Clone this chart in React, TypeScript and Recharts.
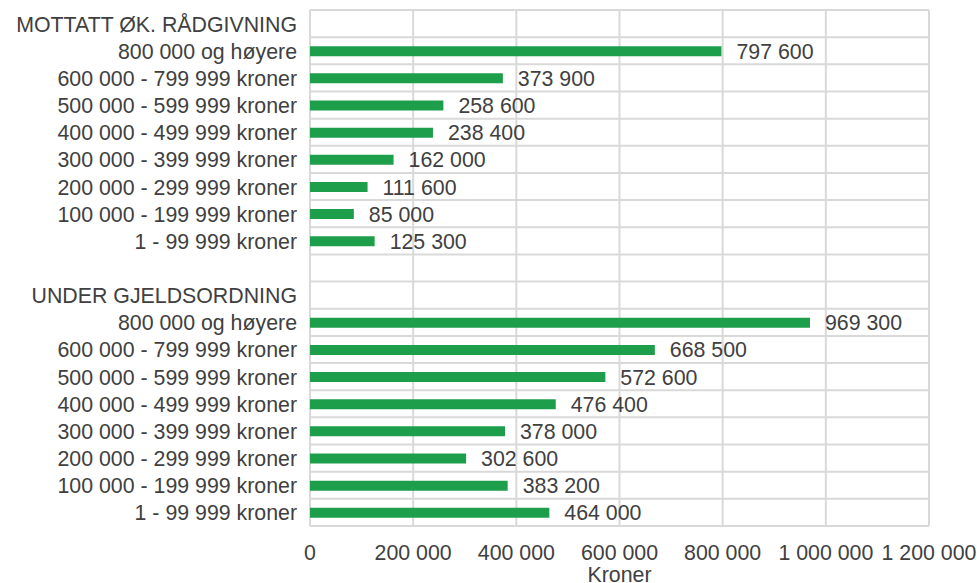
import { Bar, BarChart, CartesianGrid, LabelList, XAxis, YAxis } from "recharts"

const groups = ["MOTTATT ØK. RÅDGIVNING", "UNDER GJELDSORDNING"]

const incomeBands = [
  "800 000 og høyere",
  "600 000 - 799 999 kroner",
  "500 000 - 599 999 kroner",
  "400 000 - 499 999 kroner",
  "300 000 - 399 999 kroner",
  "200 000 - 299 999 kroner",
  "100 000 - 199 999 kroner",
  "1 - 99 999 kroner",
]

const advice = [797600, 373900, 258600, 238400, 162000, 111600, 85000, 125300]
const debtScheme = [969300, 668500, 572600, 476400, 378000, 302600, 383200, 464000]

const xTicks = [0, 200000, 400000, 600000, 800000, 1000000, 1200000]

// header row, bands, blank spacer, header row, bands
const data = [
  { name: groups[0], value: null as number | null },
  ...incomeBands.map((name, i) => ({ name, value: advice[i] })),
  { name: " ", value: null },
  { name: groups[1], value: null },
  ...incomeBands.map((name, i) => ({ name, value: debtScheme[i] })),
]

const font = "'Liberation Sans', Arial, sans-serif"
const textColor = "#404040"
const fontSize = 21.33

const fmt = (v: any) => {
  if (v === null || v === undefined || v === "") return ""
  return String(Math.round(Number(v))).replace(/\B(?=(\d{3})+(?!\d))/g, "\u00a0")
}

const XTick = ({ x, y, payload }: any) => (
  <text x={x} y={y + 34} textAnchor="middle" fontSize={fontSize} fill={textColor} fontFamily={font}>
    {fmt(payload.value)}
  </text>
)

const YTick = ({ x, y, payload }: any) => (
  <text x={x} y={y + 8} textAnchor="end" fontSize={fontSize} fill={textColor} fontFamily={font}>
    {payload.value}
  </text>
)

export default function App() {
  const rows = data.length
  return (
    <div style={{ position: "absolute", left: 0, top: 0, fontFamily: font }}>
      <BarChart
        width={977}
        height={583}
        data={data}
        layout="vertical"
        margin={{ top: 10, right: 48, bottom: 0, left: 0 }}
        barCategoryGap={0}
      >
        <CartesianGrid
          stroke="#d9d9d9"
          strokeWidth={2}
          horizontalCoordinatesGenerator={({ offset }: any) =>
            Array.from({ length: rows + 1 }, (_, i) => offset.top + (i * offset.height) / rows)
          }
        />
        <XAxis
          type="number"
          domain={[0, 1200000]}
          ticks={xTicks}
          axisLine={false}
          tickLine={false}
          tickSize={0}
          tickMargin={0}
          height={57}
          tick={<XTick />}
          label={{ value: "Kroner", position: "insideBottom", offset: 1, fontSize, fill: textColor, fontFamily: font }}
        />
        <YAxis
          type="category"
          dataKey="name"
          width={310}
          interval={0}
          axisLine={false}
          tickLine={false}
          tickSize={0}
          tickMargin={13}
          tick={<YTick />}
        />
        <Bar dataKey="value" fill="#1c9e4a" barSize={10} isAnimationActive={false}>
          <LabelList
            dataKey="value"
            position="right"
            offset={15}
            formatter={fmt}
            style={{ fontSize, fill: textColor, fontFamily: font }}
          />
        </Bar>
      </BarChart>
    </div>
  )
}
